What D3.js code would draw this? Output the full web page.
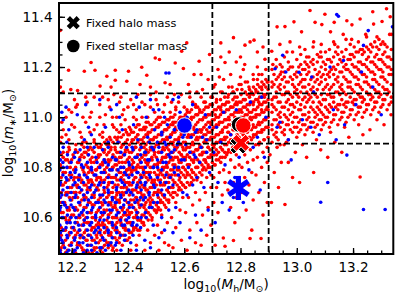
<!DOCTYPE html>
<html>
<head>
<meta charset="utf-8">
<script src="https://cdn.jsdelivr.net/npm/d3@7"></script>
<style>
  body { margin: 0; background: #fff; }
  text { font-family: "DejaVu Sans", sans-serif; }
</style>
</head>
<body>
<div id="chart"></div>
<script>
// axis ticks
const xTicks = [12.2, 12.4, 12.6, 12.8, 13.0, 13.2];
const yTicks = [10.6, 10.8, 11.0, 11.2, 11.4];
const vLines = [12.7, 12.9];
const hLines = [10.895, 11.095];
const legendLabels = ["Fixed halo mass", "Fixed stellar mass"];

// big markers [x, y]
const stellarBlue = [12.601, 10.967];
const stellarAll = [12.795, 10.971];
const stellarRed = [12.810, 10.967];
const haloAll = [12.793, 10.887];
const haloRed = [12.802, 10.898];
const haloBlue = [12.7925, 10.718];

// red galaxies [log Mh, log m*]
const redPoints = [
[12.16,10.47],[12.17,10.50],[12.18,10.46],[12.19,10.53],[12.16,10.56],[12.18,10.59],[12.17,10.62],[12.19,10.64],[12.16,10.68],[12.18,10.70],[12.165,10.73],[12.19,10.75],[12.17,10.78],[12.16,10.81],[12.185,10.83],[12.17,10.86],[12.19,10.88],[12.16,10.90],[12.18,10.93],[12.165,10.98],[12.19,11.03],[12.17,11.10],[12.16,11.12],[12.16,11.346],[12.175,10.55],[12.195,10.60],[12.16,10.52],[12.19,10.70],[12.175,10.66],[12.195,10.80],
[12.21,10.46],[12.22,10.49],[12.24,10.47],[12.23,10.52],[12.21,10.55],[12.245,10.54],[12.22,10.58],[12.24,10.61],[12.21,10.63],[12.23,10.65],[12.205,10.68],[12.245,10.69],[12.22,10.72],[12.235,10.74],[12.21,10.76],[12.24,10.79],[12.225,10.82],[12.205,10.85],[12.245,10.86],[12.215,10.89],[12.235,10.92],[12.21,10.96],[12.24,11.00],[12.22,11.05],[12.245,11.183],[12.245,10.58],[12.215,10.70],[12.23,10.84],
[12.26,10.46],[12.28,10.48],[12.255,10.51],[12.29,10.52],[12.27,10.55],[12.255,10.58],[12.285,10.59],[12.27,10.62],[12.295,10.63],[12.26,10.66],[12.28,10.68],[12.255,10.71],[12.29,10.72],[12.27,10.75],[12.26,10.78],[12.285,10.79],[12.27,10.82],[12.295,10.85],[12.26,10.87],[12.28,10.90],[12.265,10.94],[12.29,10.97],[12.27,11.02],[12.255,11.06],[12.283,11.187],[12.3,10.57],[12.275,10.65],[12.26,10.74],[12.29,10.76],
[12.31,10.46],[12.33,10.48],[12.345,10.47],[12.32,10.51],[12.305,10.53],[12.34,10.54],[12.325,10.56],[12.31,10.58],[12.345,10.60],[12.33,10.61],[12.315,10.63],[12.34,10.65],[12.305,10.66],[12.325,10.68],[12.345,10.70],[12.315,10.71],[12.33,10.73],[12.305,10.75],[12.34,10.76],[12.32,10.78],[12.345,10.80],[12.31,10.81],[12.33,10.83],[12.315,10.86],[12.34,10.88],[12.325,10.91],[12.31,10.94],[12.345,10.97],[12.32,11.01],[12.335,11.04],[12.31,11.08],[12.325,11.163],[12.305,10.89],[12.335,10.92],
[12.36,10.47],[12.38,10.49],[12.395,10.51],[12.37,10.52],[12.355,10.55],[12.39,10.56],[12.375,10.58],[12.36,10.60],[12.395,10.61],[12.38,10.63],[12.355,10.64],[12.37,10.66],[12.39,10.67],[12.36,10.69],[12.38,10.70],[12.395,10.72],[12.365,10.73],[12.385,10.75],[12.355,10.76],[12.375,10.78],[12.395,10.79],[12.36,10.81],[12.38,10.82],[12.37,10.84],[12.39,10.86],[12.355,10.87],[12.38,10.89],[12.365,10.92],[12.395,10.94],[12.375,10.97],[12.36,11.00],[12.385,11.03],[12.37,11.06],[12.396,11.143],[12.355,11.187],[12.355,11.147],
[12.41,10.47],[12.43,10.49],[12.405,10.52],[12.44,10.53],[12.42,10.55],[12.41,10.58],[12.445,10.59],[12.43,10.61],[12.405,10.62],[12.42,10.64],[12.44,10.65],[12.41,10.67],[12.43,10.68],[12.445,10.70],[12.415,10.71],[12.435,10.73],[12.405,10.74],[12.425,10.76],[12.445,10.77],[12.41,10.79],[12.43,10.80],[12.445,10.82],[12.415,10.83],[12.435,10.85],[12.405,10.86],[12.425,10.88],[12.445,10.89],[12.415,10.91],[12.435,10.93],[12.41,10.95],[12.44,10.97],[12.42,11.00],[12.43,11.03],[12.41,11.07],[12.443,11.13],[12.402,11.183],[12.449,11.199],
[12.46,10.47],[12.48,10.50],[12.495,10.53],[12.47,10.55],[12.455,10.58],[12.485,10.59],[12.47,10.62],[12.495,10.63],[12.46,10.65],[12.48,10.66],[12.455,10.68],[12.49,10.69],[12.47,10.71],[12.46,10.72],[12.485,10.74],[12.495,10.75],[12.465,10.76],[12.48,10.78],[12.455,10.79],[12.49,10.80],[12.47,10.81],[12.46,10.83],[12.485,10.84],[12.495,10.86],[12.465,10.87],[12.48,10.88],[12.455,10.90],[12.49,10.91],[12.47,10.93],[12.46,10.95],[12.485,10.97],[12.47,11.00],[12.495,11.02],[12.46,11.05],[12.48,11.09],[12.467,11.167],[12.497,11.236],
[12.51,10.47],[12.53,10.50],[12.545,10.49],[12.52,10.54],[12.505,10.57],[12.54,10.58],[12.52,10.61],[12.505,10.63],[12.535,10.64],[12.515,10.66],[12.545,10.67],[12.525,10.69],[12.505,10.70],[12.54,10.71],[12.515,10.73],[12.53,10.74],[12.545,10.76],[12.51,10.77],[12.525,10.79],[12.54,10.80],[12.505,10.81],[12.52,10.83],[12.535,10.84],[12.51,10.86],[12.545,10.87],[12.525,10.88],[12.505,10.90],[12.54,10.91],[12.52,10.93],[12.535,10.95],[12.51,10.97],[12.545,10.99],[12.525,11.02],[12.505,11.05],[12.54,11.08],[12.532,11.137],[12.512,11.23],
[12.56,10.48],[12.59,10.51],[12.57,10.56],[12.555,10.60],[12.585,10.63],[12.57,10.66],[12.595,10.68],[12.56,10.70],[12.58,10.71],[12.595,10.73],[12.565,10.74],[12.585,10.76],[12.555,10.77],[12.575,10.79],[12.595,10.80],[12.56,10.81],[12.58,10.83],[12.555,10.84],[12.59,10.85],[12.57,10.87],[12.595,10.88],[12.56,10.89],[12.58,10.91],[12.555,10.93],[12.59,10.94],[12.57,10.96],[12.56,10.98],[12.585,11.00],[12.57,11.03],[12.555,11.06],[12.59,11.09],[12.591,11.263],[12.568,11.216],[12.597,11.194],
[12.61,10.47],[12.64,10.50],[12.62,10.55],[12.645,10.58],[12.605,10.62],[12.63,10.65],[12.615,10.68],[12.64,10.70],[12.605,10.72],[12.625,10.74],[12.645,10.75],[12.61,10.77],[12.63,10.78],[12.645,10.80],[12.615,10.81],[12.635,10.83],[12.605,10.84],[12.625,10.86],[12.645,10.87],[12.61,10.88],[12.63,10.90],[12.645,10.92],[12.615,10.93],[12.635,10.95],[12.605,10.97],[12.625,10.99],[12.645,11.01],[12.61,11.03],[12.63,11.06],[12.645,11.10],[12.615,11.13],[12.635,11.17],[12.609,11.296],
[12.66,10.49],[12.68,10.53],[12.695,10.57],[12.665,10.61],[12.685,10.64],[12.655,10.67],[12.675,10.70],[12.695,10.72],[12.66,10.74],[12.68,10.76],[12.695,10.77],[12.665,10.79],[12.685,10.80],[12.655,10.82],[12.675,10.83],[12.695,10.85],[12.665,10.86],[12.685,10.88],[12.655,10.89],[12.675,10.91],[12.695,10.92],[12.66,10.94],[12.68,10.95],[12.695,10.97],[12.665,10.99],[12.685,11.01],[12.655,11.03],[12.675,11.06],[12.695,11.08],[12.665,11.11],[12.685,11.15],[12.653,11.223],[12.69,11.25],
[12.71,10.49],[12.739,10.519],[12.745,10.486],[12.72,10.62],[12.705,10.66],[12.735,10.69],[12.715,10.72],[12.745,10.74],[12.705,10.76],[12.725,10.78],[12.74,10.79],[12.71,10.81],[12.73,10.82],[12.745,10.84],[12.715,10.85],[12.735,10.87],[12.705,10.88],[12.725,10.90],[12.745,10.91],[12.715,10.93],[12.735,10.94],[12.705,10.96],[12.725,10.98],[12.745,10.99],[12.71,11.01],[12.73,11.03],[12.745,11.05],[12.715,11.07],[12.735,11.10],[12.705,11.12],[12.725,11.16],[12.745,11.218],[12.73,11.296],
[12.775,10.509],[12.78,10.58],[12.795,10.60],[12.765,10.64],[12.785,10.68],[12.755,10.71],[12.775,10.74],[12.795,10.76],[12.76,10.78],[12.78,10.80],[12.795,10.81],[12.765,10.83],[12.785,10.85],[12.755,10.86],[12.775,10.88],[12.795,10.89],[12.765,10.91],[12.785,10.92],[12.755,10.94],[12.775,10.95],[12.795,10.97],[12.76,10.99],[12.78,11.00],[12.795,11.02],[12.765,11.04],[12.785,11.06],[12.755,11.08],[12.775,11.10],[12.795,11.13],[12.765,11.17],[12.785,11.22],[12.775,11.317],
[12.834,10.517],[12.84,10.55],[12.82,10.63],[12.845,10.67],[12.805,10.70],[12.83,10.73],[12.815,10.76],[12.84,10.78],[12.805,10.80],[12.825,10.82],[12.845,10.83],[12.815,10.85],[12.835,10.87],[12.805,10.88],[12.825,10.90],[12.845,10.92],[12.81,10.93],[12.83,10.95],[12.845,10.97],[12.815,10.98],[12.835,11.00],[12.805,11.02],[12.825,11.03],[12.845,11.05],[12.815,11.07],[12.835,11.09],[12.805,11.11],[12.825,11.14],[12.845,11.17],[12.815,11.21],[12.816,11.287],[12.834,11.30],[12.848,11.307],
[12.873,10.517],[12.88,10.61],[12.895,10.66],[12.865,10.70],[12.885,10.74],[12.855,10.77],[12.875,10.80],[12.895,10.82],[12.86,10.84],[12.88,10.86],[12.895,10.88],[12.865,10.89],[12.885,10.91],[12.855,10.93],[12.875,10.94],[12.895,10.96],[12.865,10.98],[12.885,10.99],[12.855,11.01],[12.875,11.03],[12.895,11.04],[12.865,11.06],[12.885,11.08],[12.855,11.10],[12.875,11.12],[12.895,11.14],[12.865,11.17],[12.887,11.231],[12.86,11.26],
[12.91,10.66],[12.935,10.72],[12.92,10.78],[12.945,10.82],[12.905,10.85],[12.93,10.88],[12.945,11.18],[12.915,11.21],[12.911,11.263],[12.94,11.29],
[12.958,10.652],[12.985,10.76],[12.97,10.82],[12.995,10.86],[12.955,10.89],[12.965,11.26],[12.976,11.30],[12.958,11.361],
[13.01,10.74],[13.035,10.84],[13.02,10.89],[13.035,11.24],[13.01,11.28],[13.017,11.34],[13.047,11.425],
[13.06,10.78],[13.085,10.87],[13.07,10.91],[13.085,11.26],[13.06,11.30],[13.065,11.378],[13.089,11.369],
[13.11,10.84],[13.135,10.90],[13.12,10.94],[13.135,11.29],[13.12,11.34],[13.133,11.378],
[13.16,10.86],[13.185,10.92],[13.17,10.96],[13.195,11.31],[13.165,11.33],[13.178,11.384],[13.196,11.368],
[13.225,10.762],[13.235,10.93],[13.22,10.97],[13.245,11.33],[13.225,11.391],
[13.26,10.95],[13.285,10.99],[13.285,11.32],[13.273,11.371],[13.303,11.381],
[13.31,10.97],[13.335,11.01],[13.33,11.33],[13.332,11.40],[13.319,11.432],
[12.189,11.187],[12.269,11.218],[12.221,11.106],[12.197,11.11],[12.301,11.124],
[12.17,10.95],[12.2,11.02],[12.25,10.98],[12.3,11.05],[12.35,11.09],[12.4,11.04],[12.38,11.01],[12.45,11.06],[12.5,11.1],[12.55,11.13],[12.62,11.08],[12.57,11.04],[12.43,10.99],[12.28,11.08],[12.21,11.07],[12.34,11.12],[12.48,11.12],[12.66,11.17],[12.72,11.19],[12.76,11.26],[12.8,11.24],[12.86,11.2],[12.93,11.36],[12.99,11.38],[13.1,11.41],[13.27,11.42],
[12.165,10.92],[12.18,11.0],[12.2,10.97],[12.215,11.04],[12.23,10.94],[12.25,11.08],[12.265,11.0],[12.28,10.95],[12.3,11.0],[12.315,10.97],[12.33,11.07],[12.345,11.0],[12.36,10.95],[12.375,11.08],[12.39,10.99],[12.405,10.96],[12.42,11.05],[12.435,11.09],[12.45,11.0],[12.465,10.98],[12.48,11.04],[12.5,11.07],[12.515,11.0],[12.53,11.05],[12.55,11.02],[12.565,11.09],[12.58,11.06],[12.6,11.04],[12.62,11.1],[12.64,11.05],[12.66,11.08],[12.19,10.91],[12.24,10.9],[12.3,10.93],[12.35,10.96],[12.4,10.93],
[12.71,11.13],[12.74,11.15],[12.77,11.12],[12.8,11.16],[12.83,11.12],[12.86,11.15],[12.89,11.19],[12.73,11.24],[12.81,11.19],[12.88,11.28]
];

// dense red core, listed per narrow column: [log Mh, [log m* ...]]
const redDense = [
[12.163,[10.48,10.53,10.56,10.62,10.66,10.7,10.76,10.8,10.85]],
[12.178,[10.46,10.51,10.55,10.6,10.65,10.69,10.74,10.78,10.83]],
[12.192,[10.49,10.54,10.59,10.63,10.68,10.72,10.77,10.82,10.87]],
[12.207,[10.47,10.52,10.56,10.61,10.64,10.7,10.75,10.79,10.84]],
[12.221,[10.5,10.54,10.6,10.63,10.68,10.73,10.76,10.82,10.86]],
[12.236,[10.48,10.53,10.57,10.62,10.67,10.71,10.75,10.8,10.85,10.89]],
[12.251,[10.46,10.51,10.55,10.6,10.64,10.68,10.73,10.77,10.81,10.86,10.9]],
[12.266,[10.49,10.53,10.58,10.62,10.66,10.71,10.75,10.79,10.83,10.88]],
[12.28,[10.47,10.51,10.56,10.6,10.65,10.69,10.73,10.77,10.82,10.86,10.91]],
[12.295,[10.5,10.54,10.58,10.63,10.67,10.71,10.76,10.8,10.84,10.88]],
[12.31,[10.48,10.52,10.57,10.61,10.65,10.69,10.74,10.78,10.82,10.87,10.92]],
[12.325,[10.5,10.55,10.59,10.63,10.68,10.72,10.76,10.8,10.85,10.89]],
[12.339,[10.49,10.53,10.58,10.62,10.66,10.7,10.74,10.79,10.83,10.87,10.91]],
[12.354,[10.52,10.57,10.6,10.65,10.68,10.73,10.76,10.81,10.84,10.88,10.92]],
[12.369,[10.5,10.54,10.59,10.62,10.67,10.7,10.75,10.78,10.82,10.86,10.9,10.94]],
[12.384,[10.53,10.56,10.61,10.64,10.69,10.72,10.77,10.8,10.85,10.89,10.93]],
[12.398,[10.51,10.55,10.58,10.63,10.66,10.71,10.74,10.79,10.83,10.87,10.91]],
[12.413,[10.54,10.57,10.62,10.65,10.7,10.73,10.78,10.81,10.86,10.9,10.94]],
[12.428,[10.56,10.6,10.63,10.68,10.71,10.76,10.79,10.84,10.88,10.92,10.96]],
[12.442,[10.55,10.59,10.64,10.67,10.72,10.75,10.8,10.83,10.87,10.91,10.95]],
[12.457,[10.57,10.61,10.64,10.69,10.72,10.77,10.8,10.85,10.88,10.92,10.96]],
[12.472,[10.59,10.62,10.67,10.7,10.75,10.78,10.82,10.86,10.9,10.94,10.98]],
[12.486,[10.6,10.64,10.67,10.72,10.75,10.8,10.83,10.87,10.91,10.95]],
[12.501,[10.62,10.65,10.7,10.73,10.77,10.81,10.84,10.89,10.92,10.96,10.99]],
[12.516,[10.63,10.67,10.7,10.75,10.78,10.82,10.86,10.9,10.93,10.97]],
[12.53,[10.65,10.68,10.73,10.76,10.8,10.84,10.87,10.91,10.95,10.98]],
[12.545,[10.66,10.7,10.74,10.77,10.82,10.85,10.89,10.92,10.96,10.99]],
[12.56,[10.68,10.72,10.75,10.79,10.83,10.86,10.9,10.94,10.97,11.0]],
[12.575,[10.69,10.73,10.77,10.8,10.84,10.88,10.91,10.95,10.98]],
[12.589,[10.71,10.74,10.78,10.82,10.85,10.89,10.93,10.96,11.0]],
[12.604,[10.72,10.76,10.79,10.83,10.87,10.9,10.94,10.97,11.01]],
[12.619,[10.73,10.77,10.81,10.84,10.88,10.92,10.95,10.99,11.02]],
[12.633,[10.75,10.78,10.82,10.86,10.89,10.93,10.96,11.0]],
[12.648,[10.76,10.8,10.83,10.87,10.91,10.94,10.98,11.01,11.04]],
[12.663,[10.77,10.81,10.85,10.88,10.92,10.95,10.99,11.02]],
[12.677,[10.79,10.82,10.86,10.9,10.93,10.97,11.0,11.04]],
[12.692,[10.8,10.84,10.87,10.91,10.94,10.98,11.01,11.05]],
[12.707,[10.81,10.85,10.89,10.92,10.96,10.99,11.03]],
[12.722,[10.83,10.86,10.9,10.93,10.97,11.0,11.04]],
[12.736,[10.84,10.87,10.91,10.95,10.98,11.02,11.05]],
[12.751,[10.85,10.89,10.92,10.96,10.99,11.03,11.06]],
[12.766,[10.86,10.9,10.93,10.97,11.01,11.04]],
[12.78,[10.87,10.91,10.95,10.98,11.02,11.05,11.08]],
[12.795,[10.88,10.92,10.96,10.99,11.03,11.06]],
[12.81,[10.89,10.93,10.97,11.0,11.04,11.07]],
[12.824,[10.9,10.94,10.98,11.01,11.05,11.09]],
[12.839,[10.91,10.95,10.99,11.02,11.06,11.1]],
[12.854,[10.89,10.93,10.96,11.0,11.03,11.07,11.11]],
[12.868,[10.9,10.94,10.97,11.01,11.05,11.08,11.12]],
[12.883,[10.91,10.95,10.99,11.02,11.06,11.09,11.13]],
[12.898,[10.92,10.96,11.0,11.03,11.07,11.11,11.14]],
[12.912,[10.9,10.95,10.97,11.02,11.05,11.07,11.12,11.14,11.19]],
[12.927,[10.92,10.94,10.99,11.03,11.08,11.1,11.15,11.2,11.23]],
[12.941,[10.89,10.96,11.0,11.02,11.06,11.11,11.13,11.17,11.21]],
[12.956,[10.93,10.95,11.01,11.04,11.09,11.12,11.16,11.18,11.24]],
[12.97,[10.91,10.97,10.99,11.03,11.07,11.1,11.14,11.19,11.22]],
[12.985,[10.94,10.98,11.02,11.05,11.08,11.13,11.15,11.2,11.26]],
[13.0,[10.92,10.96,11.0,11.06,11.09,11.11,11.16,11.18,11.23]],
[13.014,[10.95,10.99,11.03,11.05,11.1,11.14,11.17,11.21,11.25]],
[13.029,[10.93,10.97,11.01,11.04,11.08,11.12,11.15,11.19,11.22,11.27]],
[13.043,[10.96,11.0,11.02,11.07,11.09,11.13,11.18,11.2,11.24]],
[13.058,[10.94,10.98,11.03,11.06,11.1,11.12,11.16,11.21,11.23,11.28]],
[13.073,[10.97,11.01,11.04,11.08,11.11,11.15,11.17,11.22,11.25]],
[13.087,[10.95,10.99,11.02,11.05,11.09,11.14,11.16,11.2,11.24,11.29]],
[13.102,[10.98,11.0,11.04,11.07,11.12,11.15,11.19,11.21,11.26]],
[13.116,[10.96,11.02,11.05,11.09,11.11,11.16,11.18,11.23,11.27]],
[13.131,[10.99,11.01,11.06,11.08,11.13,11.17,11.2,11.24,11.3]],
[13.146,[10.97,11.03,11.05,11.1,11.14,11.16,11.21,11.25,11.28]],
[13.16,[11.0,11.02,11.07,11.11,11.13,11.18,11.22,11.26]],
[13.175,[10.98,11.04,11.06,11.09,11.15,11.19,11.21,11.27,11.31]],
[13.19,[11.01,11.03,11.08,11.12,11.14,11.18,11.23,11.25,11.29]],
[13.204,[10.99,11.05,11.07,11.1,11.16,11.2,11.24,11.28]],
[13.219,[11.02,11.04,11.09,11.13,11.15,11.19,11.22,11.26,11.3]],
[13.233,[11.0,11.06,11.08,11.11,11.17,11.21,11.25,11.27]],
[13.248,[11.03,11.05,11.1,11.14,11.16,11.2,11.23,11.28,11.32]],
[13.263,[11.01,11.07,11.09,11.12,11.18,11.22,11.26,11.29]],
[13.277,[11.04,11.06,11.11,11.15,11.17,11.21,11.24,11.3]],
[13.292,[11.02,11.08,11.1,11.13,11.19,11.23,11.27,11.31]],
[13.306,[11.05,11.07,11.12,11.16,11.18,11.22,11.25,11.3]],
[13.321,[11.03,11.09,11.11,11.14,11.2,11.24,11.28]],
[13.336,[11.06,11.08,11.13,11.17,11.19,11.23,11.27,11.33]]
];

// second, offset set of narrow columns in the dense red regions
const redDense2 = [
[12.17,[10.49,10.55,10.6,10.66,10.73,10.78,10.84]],
[12.185,[10.47,10.52,10.58,10.63,10.7,10.75,10.8,10.86]],
[12.2,[10.5,10.56,10.61,10.67,10.72,10.77,10.83]],
[12.214,[10.46,10.53,10.58,10.64,10.7,10.73,10.8,10.87]],
[12.229,[10.49,10.55,10.6,10.66,10.7,10.76,10.83]],
[12.244,[10.47,10.52,10.59,10.64,10.68,10.73,10.78,10.84,10.88]],
[12.258,[10.49,10.53,10.58,10.62,10.67,10.72,10.75,10.8,10.85]],
[12.273,[10.46,10.51,10.56,10.6,10.65,10.69,10.74,10.78,10.84,10.87]],
[12.288,[10.48,10.53,10.57,10.62,10.66,10.71,10.75,10.79,10.83,10.89]],
[12.302,[10.47,10.51,10.55,10.6,10.64,10.68,10.73,10.76,10.81,10.85,10.88]],
[12.317,[10.49,10.54,10.57,10.62,10.66,10.7,10.75,10.79,10.83,10.87,10.9]],
[12.332,[10.5,10.53,10.58,10.61,10.66,10.69,10.74,10.77,10.82,10.86,10.89]],
[12.347,[10.48,10.52,10.56,10.6,10.64,10.68,10.72,10.76,10.8,10.85,10.9]],
[12.361,[10.51,10.55,10.58,10.63,10.67,10.7,10.75,10.79,10.83,10.86,10.91]],
[12.376,[10.53,10.57,10.6,10.64,10.68,10.72,10.76,10.8,10.84,10.88,10.92]],
[12.391,[10.51,10.55,10.59,10.62,10.67,10.7,10.74,10.78,10.82,10.87,10.9,10.95]],
[12.405,[10.54,10.58,10.61,10.65,10.69,10.73,10.77,10.8,10.84,10.89,10.93]],
[12.42,[10.56,10.6,10.64,10.67,10.71,10.75,10.79,10.82,10.87,10.91,10.94]],
[12.435,[10.55,10.59,10.62,10.66,10.7,10.74,10.78,10.81,10.85,10.9,10.93,10.97]],
[12.45,[10.58,10.61,10.65,10.69,10.73,10.76,10.8,10.84,10.88,10.91,10.95]],
[12.464,[10.6,10.63,10.66,10.71,10.74,10.78,10.82,10.85,10.89,10.93,10.96]],
[12.479,[10.61,10.65,10.68,10.72,10.76,10.8,10.83,10.87,10.91,10.94,10.97]],
[12.494,[10.63,10.66,10.7,10.74,10.78,10.81,10.85,10.88,10.92,10.95,10.98]],
[12.508,[10.64,10.68,10.71,10.75,10.79,10.82,10.86,10.89,10.93,10.96,11.0]],
[12.523,[10.66,10.69,10.73,10.77,10.8,10.84,10.87,10.91,10.94,10.98]],
[12.538,[10.67,10.71,10.74,10.78,10.81,10.85,10.88,10.92,10.95,10.99]],
[12.552,[10.69,10.72,10.76,10.79,10.83,10.86,10.9,10.93,10.97,11.0]],
[12.567,[10.7,10.74,10.77,10.81,10.84,10.88,10.91,10.94,10.98,11.01]],
[12.582,[10.72,10.75,10.79,10.82,10.86,10.89,10.92,10.96,10.99]],
[12.597,[10.73,10.77,10.8,10.84,10.87,10.9,10.94,10.97,11.0]],
[12.611,[10.74,10.78,10.81,10.85,10.88,10.92,10.95,10.98,11.02]],
[12.626,[10.76,10.79,10.83,10.86,10.89,10.93,10.96,11.0,11.03]],
[12.641,[10.77,10.8,10.84,10.87,10.91,10.94,10.97,11.01,11.04]],
[12.655,[10.78,10.82,10.85,10.88,10.92,10.95,10.99,11.02]],
[12.67,[10.8,10.83,10.86,10.9,10.93,10.96,11.0,11.03,11.06]],
[12.685,[10.81,10.84,10.88,10.91,10.94,10.98,11.01,11.04]],
[12.7,[10.82,10.85,10.89,10.92,10.95,10.99,11.02,11.05,11.08]],
[12.714,[10.83,10.87,10.9,10.93,10.97,11.0,11.03,11.06]],
[12.729,[10.84,10.88,10.91,10.94,10.98,11.01,11.04,11.07,11.1]],
[12.744,[10.86,10.89,10.92,10.96,10.99,11.02,11.05,11.08]],
[12.758,[10.87,10.9,10.94,10.97,11.0,11.03,11.06,11.09,11.12]],
[12.773,[10.88,10.91,10.95,10.98,11.01,11.04,11.07,11.1]],
[12.788,[10.89,10.93,10.96,10.99,11.02,11.05,11.08,11.11]],
[12.802,[10.9,10.94,10.97,11.0,11.03,11.06,11.09,11.13]],
[12.817,[10.91,10.95,10.98,11.01,11.04,11.07,11.1,11.14]],
[12.832,[10.92,10.96,10.99,11.02,11.05,11.08,11.11]],
[12.846,[10.93,10.96,11.0,11.03,11.06,11.09,11.12,11.15]],
[12.861,[10.94,10.97,11.01,11.04,11.07,11.1,11.13]],
[12.876,[10.95,10.98,11.02,11.05,11.08,11.11,11.14,11.17]],
[12.89,[10.96,10.99,11.03,11.06,11.09,11.12,11.15]],
[12.919,[10.93,10.99,11.04,11.08,11.13,11.17]],
[12.934,[10.91,10.97,11.01,11.06,11.12,11.16]],
[12.948,[10.94,10.98,11.04,11.09,11.15,11.2]],
[12.963,[10.9,10.97,11.0,11.06,11.1,11.14]],
[12.977,[10.95,11.01,11.05,11.09,11.16,11.2]],
[12.992,[10.96,11.0,11.04,11.1,11.12,11.17]],
[13.007,[10.94,10.98,11.03,11.08,11.13,11.2]],
[13.021,[10.97,11.01,11.07,11.12,11.15,11.19]],
[13.036,[10.95,10.99,11.06,11.1,11.17,11.21]],
[13.05,[10.98,11.04,11.08,11.11,11.15,11.22]],
[13.065,[10.96,11.0,11.02,11.09,11.14,11.19]],
[13.08,[10.99,11.03,11.06,11.13,11.18,11.24]],
[13.094,[10.97,11.01,11.07,11.11,11.17,11.22]],
[13.109,[11.0,11.03,11.09,11.13,11.17,11.23]],
[13.123,[10.98,11.04,11.08,11.12,11.19,11.22]],
[13.138,[11.01,11.04,11.1,11.15,11.19,11.26]],
[13.153,[10.99,11.05,11.09,11.12,11.18,11.23]],
[13.167,[11.02,11.05,11.1,11.16,11.2,11.24]],
[13.182,[11.0,11.06,11.12,11.14,11.19,11.23]],
[13.197,[11.03,11.06,11.11,11.17,11.21,11.25]],
[13.211,[11.01,11.07,11.13,11.16,11.2,11.26]],
[13.226,[11.04,11.08,11.12,11.18,11.22,11.27]],
[13.24,[11.02,11.07,11.14,11.17,11.21,11.26]],
[13.255,[11.05,11.09,11.13,11.19,11.24,11.27]],
[13.27,[11.03,11.08,11.15,11.18,11.22,11.28]],
[13.284,[11.06,11.1,11.14,11.2,11.25,11.28]],
[13.299,[11.04,11.09,11.16,11.19,11.23,11.29]],
[13.313,[11.07,11.11,11.15,11.21,11.26,11.29]],
[13.328,[11.05,11.1,11.17,11.2,11.24]]
];

// blue galaxies [log Mh, log m*]
const bluePoints = [
[12.16,10.46],[12.175,10.48],[12.19,10.47],[12.165,10.51],[12.185,10.52],[12.16,10.54],[12.18,10.56],[12.195,10.58],[12.165,10.60],[12.185,10.61],[12.16,10.64],[12.175,10.65],[12.195,10.67],[12.165,10.69],[12.185,10.72],[12.16,10.74],[12.18,10.76],[12.195,10.78],[12.17,10.80],[12.16,10.83],[12.185,10.85],[12.17,10.88],[12.19,10.95],[12.165,11.02],[12.18,11.04],
[12.205,10.46],[12.22,10.48],[12.24,10.50],[12.21,10.51],[12.23,10.53],[12.205,10.56],[12.225,10.57],[12.245,10.59],[12.215,10.60],[12.235,10.62],[12.205,10.64],[12.225,10.66],[12.245,10.67],[12.215,10.69],[12.235,10.71],[12.205,10.73],[12.225,10.75],[12.245,10.77],[12.215,10.79],[12.235,10.81],[12.21,10.84],[12.23,10.87],[12.245,10.91],
[12.255,10.47],[12.27,10.49],[12.29,10.46],[12.26,10.53],[12.28,10.54],[12.295,10.56],[12.265,10.57],[12.285,10.61],[12.255,10.62],[12.275,10.64],[12.295,10.66],[12.26,10.67],[12.28,10.70],[12.295,10.73],[12.265,10.72],[12.255,10.76],[12.28,10.77],[12.27,10.80],[12.29,10.82],[12.26,10.85],[12.28,10.88],[12.27,10.93],
[12.305,10.48],[12.32,10.47],[12.34,10.50],[12.31,10.52],[12.33,10.55],[12.345,10.57],[12.315,10.59],[12.305,10.62],[12.335,10.63],[12.32,10.66],[12.345,10.67],[12.31,10.69],[12.33,10.71],[12.345,10.74],[12.315,10.74],[12.305,10.78],[12.335,10.79],[12.32,10.82],[12.345,10.84],[12.31,10.87],[12.33,10.90],[12.32,10.96],[12.34,11.03],
[12.355,10.49],[12.375,10.47],[12.39,10.53],[12.36,10.54],[12.38,10.57],[12.395,10.59],[12.365,10.62],[12.385,10.65],[12.355,10.66],[12.375,10.68],[12.395,10.70],[12.36,10.72],[12.38,10.74],[12.395,10.77],[12.365,10.79],[12.385,10.80],[12.355,10.83],[12.375,10.86],[12.395,10.88],[12.365,10.90],[12.38,10.95],[12.36,11.05],
[12.41,10.50],[12.43,10.47],[12.445,10.56],[12.415,10.57],[12.435,10.60],[12.405,10.64],[12.425,10.66],[12.445,10.68],[12.41,10.70],[12.43,10.72],[12.445,10.74],[12.415,10.77],[12.435,10.78],[12.405,10.81],[12.425,10.84],[12.445,10.85],[12.415,10.88],[12.435,10.91],[12.42,10.97],[12.44,11.04],
[12.46,10.51],[12.48,10.48],[12.49,10.57],[12.465,10.60],[12.485,10.64],[12.455,10.67],[12.475,10.69],[12.495,10.72],[12.46,10.73],[12.48,10.76],[12.455,10.78],[12.49,10.80],[12.47,10.83],[12.46,10.86],[12.485,10.88],[12.47,10.92],[12.495,10.95],[12.465,11.00],[12.48,11.07],
[12.51,10.52],[12.53,10.55],[12.52,10.60],[12.545,10.63],[12.505,10.66],[12.53,10.69],[12.545,10.72],[12.515,10.74],[12.535,10.77],[12.505,10.80],[12.525,10.82],[12.545,10.85],[12.51,10.88],[12.53,10.90],[12.52,10.94],[12.54,10.97],[12.51,11.03],[12.535,11.176],[12.546,11.176],
[12.56,10.54],[12.585,10.58],[12.57,10.64],[12.595,10.70],[12.56,10.73],[12.58,10.77],[12.565,10.80],[12.59,10.83],[12.555,10.86],[12.575,10.89],[12.595,10.92],[12.565,10.95],[12.585,11.02],[12.56,11.07],
[12.62,10.52],[12.64,10.61],[12.61,10.69],[12.63,10.73],[12.645,10.76],[12.615,10.80],[12.635,10.85],[12.605,10.89],[12.625,10.92],[12.645,10.95],[12.61,11.00],[12.63,11.05],
[12.66,10.55],[12.685,10.63],[12.67,10.72],[12.69,10.78],[12.655,10.82],[12.68,10.86],[12.665,10.92],[12.69,10.96],[12.675,11.01],
[12.71,10.58],[12.735,10.66],[12.72,10.74],[12.745,10.81],[12.705,10.86],[12.73,10.90],[12.715,10.96],[12.74,11.02],
[12.76,10.63],[12.78,10.76],[12.795,10.84],[12.765,10.93],[12.785,11.03],[12.775,10.68],
[12.81,10.66],[12.83,10.79],[12.845,10.88],[12.815,10.95],[12.835,11.06],
[12.87,10.71],[12.885,10.84],[12.86,10.92],[12.89,11.00],[12.875,11.08],
[12.95,11.247],[12.923,11.193],[12.961,11.18],[13.008,11.179],[13.053,11.16],[13.118,11.2],[13.142,11.409],[13.148,11.402],[13.254,11.345],[13.34,11.36],[13.237,11.286],[13.166,11.226],
[12.93,10.96],[12.97,10.91],[13.02,10.99],[13.08,10.93],[13.13,11.03],[13.17,10.97],[13.21,11.05],[13.27,11.12],[13.3,11.01],[13.11,10.74],[12.98,10.83],[13.06,11.10],[13.14,10.91],[13.23,11.18],[12.94,10.98],[13.05,10.96],
[13.237,10.632],[13.314,10.632],[13.178,10.849],[13.085,10.661],
[12.17,10.99],[12.22,11.01],[12.26,10.96],[12.3,11.07],[12.37,11.0],[12.43,11.08],[12.49,11.03],[12.53,11.0],[12.58,11.08],[12.25,11.05]
];

// dense blue clump at low mass, per narrow column
const blueDense = [
[12.158,[10.47,10.52,10.57,10.63,10.68,10.73,10.79,10.86]],
[12.169,[10.5,10.55,10.6,10.66,10.71,10.77,10.82]],
[12.183,[10.46,10.53,10.58,10.64,10.69,10.75,10.8,10.9]],
[12.198,[10.49,10.54,10.6,10.65,10.7,10.76,10.82]],
[12.212,[10.47,10.52,10.58,10.63,10.68,10.74,10.78,10.86]],
[12.227,[10.5,10.55,10.61,10.66,10.72,10.77,10.83]],
[12.242,[10.46,10.52,10.57,10.63,10.69,10.74,10.8]],
[12.256,[10.49,10.55,10.6,10.65,10.7,10.76,10.82,10.88]],
[12.271,[10.47,10.52,10.58,10.63,10.68,10.73,10.79]],
[12.286,[10.5,10.55,10.6,10.66,10.71,10.77,10.84]],
[12.3,[10.48,10.54,10.59,10.64,10.69,10.74,10.8]],
[12.315,[10.51,10.56,10.62,10.67,10.72,10.78,10.83]],
[12.33,[10.49,10.54,10.6,10.65,10.7,10.76,10.81,10.88]],
[12.344,[10.52,10.58,10.63,10.68,10.74,10.79]],
[12.359,[10.5,10.56,10.61,10.66,10.71,10.77,10.83]],
[12.374,[10.53,10.59,10.64,10.69,10.75,10.8]],
[12.388,[10.51,10.57,10.62,10.67,10.73,10.78,10.85]],
[12.403,[10.55,10.6,10.66,10.71,10.76,10.82]],
[12.418,[10.53,10.58,10.64,10.69,10.74,10.8,10.87]],
[12.432,[10.57,10.62,10.67,10.73,10.78,10.84]],
[12.447,[10.6,10.65,10.71,10.76,10.82,10.88]],
[12.462,[10.62,10.68,10.74,10.8,10.86]],
[12.476,[10.64,10.7,10.77,10.83,10.9]],
[12.491,[10.66,10.73,10.8,10.87]],
[12.505,[10.69,10.76,10.83,10.9]],
[12.52,[10.71,10.79,10.86,10.93]],
[12.535,[10.74,10.82,10.89]],
[12.55,[10.76,10.84,10.92]],
[12.565,[10.78,10.87,10.95]],
[12.58,[10.8,10.9]],
[12.6,[10.83,10.93]],
[12.62,[10.86,10.96]],
[12.64,[10.84,10.94]],
[12.66,[10.88]],
[12.68,[10.91]]
];

const unfold = cols => cols.flatMap(([mh, ys]) => ys.map(ms => [mh, ms]));
const redAll = redPoints.concat(unfold(redDense), unfold(redDense2));
const blueAll = bluePoints.concat(unfold(blueDense));

const W = 399, H = 299;
const margin = { top: 3, right: 5.7, bottom: 45, left: 59 };
const width = W - margin.left - margin.right,
    height = H - margin.top - margin.bottom;

const svg = d3.select("#chart")
    .append("svg")
    .attr("width", W)
    .attr("height", H)
    .append("g")
    .attr("transform", `translate(${margin.left}, ${margin.top})`);

const x = d3.scaleLinear().domain([12.155, 13.343]).range([0, width]);
const y = d3.scaleLinear().domain([10.455, 11.455]).range([height, 0]);

svg.append("clipPath").attr("id", "clip")
    .append("rect").attr("width", width).attr("height", height);

const plot = svg.append("g").attr("clip-path", "url(#clip)");

// scatter: red first, blue on top
plot.append("g").selectAll("circle")
    .data(redAll)
    .join("circle")
    .attr("cx", d => x(d[0]))
    .attr("cy", d => y(d[1]))
    .attr("r", 1.8)
    .attr("fill", "#ff0000");

plot.append("g").selectAll("circle")
    .data(blueAll)
    .join("circle")
    .attr("cx", d => x(d[0]))
    .attr("cy", d => y(d[1]))
    .attr("r", 1.8)
    .attr("fill", "#0000ff");

// dashed reference lines
plot.selectAll(".vl").data(vLines).join("line")
    .attr("x1", d => x(d)).attr("x2", d => x(d))
    .attr("y1", 0).attr("y2", height)
    .attr("stroke", "#000").attr("stroke-width", 1.8)
    .attr("stroke-dasharray", "6,3");
plot.selectAll(".hl").data(hLines).join("line")
    .attr("y1", d => y(d)).attr("y2", d => y(d))
    .attr("x1", 0).attr("x2", width)
    .attr("stroke", "#000").attr("stroke-width", 1.8)
    .attr("stroke-dasharray", "6,3");

// marker shapes
function xPath(L, t) {
    const pts = [[-t,-L],[t,-L],[t,-t],[L,-t],[L,t],[t,t],[t,L],[-t,L],[-t,t],[-L,t],[-L,-t],[-t,-t]];
    const r = pts.map(p => [(p[0] - p[1]) / Math.SQRT2, (p[0] + p[1]) / Math.SQRT2]);
    return "M" + r.map(p => p[0].toFixed(2) + "," + p[1].toFixed(2)).join("L") + "Z";
}

const marks = svg.append("g");
marks.append("circle").attr("cx", x(stellarBlue[0])).attr("cy", y(stellarBlue[1]))
    .attr("r", 7.8).attr("fill", "#0000ff").attr("stroke", "#fff").attr("stroke-width", 1);
marks.append("circle").attr("cx", x(stellarAll[0])).attr("cy", y(stellarAll[1]))
    .attr("r", 7.8).attr("fill", "#000").attr("stroke", "#fff").attr("stroke-width", 1);
marks.append("circle").attr("cx", x(stellarRed[0])).attr("cy", y(stellarRed[1]))
    .attr("r", 7.8).attr("fill", "#ff0000").attr("stroke", "#fff").attr("stroke-width", 1);
marks.append("path").attr("d", xPath(9.2, 2.8))
    .attr("transform", `translate(${x(haloAll[0])},${y(haloAll[1])})`)
    .attr("fill", "#000").attr("stroke", "#fff").attr("stroke-width", 1);
marks.append("path").attr("d", xPath(9.2, 2.8))
    .attr("transform", `translate(${x(haloRed[0])},${y(haloRed[1])})`)
    .attr("fill", "#ff0000").attr("stroke", "#fff").attr("stroke-width", 1);
const star = marks.append("g")
    .attr("transform", `translate(${x(haloBlue[0])},${y(haloBlue[1])})`);
star.selectAll("rect").data([90, 35, 145]).join("rect")
    .attr("x", -12).attr("y", -2.6).attr("width", 24).attr("height", 5.2)
    .attr("transform", d => `rotate(${d})`)
    .attr("fill", "#0000ff");

// frame
svg.append("rect").attr("width", width).attr("height", height)
    .attr("fill", "none").attr("stroke", "#000").attr("stroke-width", 2);

// axes (ticks inward)
svg.append("g").attr("transform", `translate(0,${height})`)
    .call(d3.axisBottom(x).tickValues(xTicks).tickFormat(d3.format(".1f"))
        .tickSizeInner(-6).tickSizeOuter(0).tickPadding(8));
svg.append("g")
    .call(d3.axisLeft(y).tickValues(yTicks).tickFormat(d3.format(".1f"))
        .tickSizeInner(-6).tickSizeOuter(0).tickPadding(6.5));
svg.append("g").attr("transform", `translate(0,${height})`)
    .call(d3.axisBottom(x).tickValues(d3.range(12.2, 13.34, 0.05)).tickFormat("")
        .tickSizeInner(-3.5).tickSizeOuter(0));
svg.append("g")
    .call(d3.axisLeft(y).tickValues(d3.range(10.5, 11.45, 0.05)).tickFormat("")
        .tickSizeInner(-3.5).tickSizeOuter(0));
svg.selectAll(".domain").remove();
svg.selectAll(".tick line").attr("stroke", "#000").attr("stroke-width", 1.3);
svg.selectAll(".tick text").style("font-size", "13.5px").style("font-family", "DejaVu Sans").attr("fill", "#000");

// axis labels
const xl = svg.append("text")
    .attr("x", width / 2).attr("y", 286)
    .attr("text-anchor", "middle").style("font-size", "13.5px");
xl.append("tspan").text("log");
xl.append("tspan").text("10").style("font-size", "9.5px").attr("dy", 3);
xl.append("tspan").text("(").attr("dy", -3);
xl.append("tspan").text("M").style("font-style", "italic");
xl.append("tspan").text("h").style("font-size", "9.5px").attr("dy", 3);
xl.append("tspan").text("/M").attr("dy", -3);
xl.append("tspan").text("⊙").style("font-size", "9.5px").attr("dy", 3);
xl.append("tspan").text(")").attr("dy", -3);

const yl = svg.append("text")
    .attr("transform", `translate(${13 - margin.left},${130}) rotate(-90)`)
    .attr("text-anchor", "middle").style("font-size", "13.5px");
yl.append("tspan").text("log");
yl.append("tspan").text("10").style("font-size", "9.5px").attr("dy", 3);
yl.append("tspan").text("(").attr("dy", -3);
yl.append("tspan").text("m").style("font-style", "italic");
yl.append("tspan").text("∗").style("font-size", "9.5px").attr("dy", 3);
yl.append("tspan").text("/M").attr("dy", -3);
yl.append("tspan").text("⊙").style("font-size", "9.5px").attr("dy", 3);
yl.append("tspan").text(")").attr("dy", -3);

// legend
const lg = svg.append("g").attr("transform", `translate(${73.3 - margin.left},0)`);
lg.append("path").attr("d", xPath(7, 2.3))
    .attr("transform", `translate(0,${22.7 - margin.top})`).attr("fill", "#000");
lg.append("circle").attr("cx", 0).attr("cy", 46 - margin.top).attr("r", 6.3).attr("fill", "#000");
lg.selectAll(".lt").data(legendLabels).join("text")
    .attr("x", 12.7)
    .attr("y", (d, i) => (i === 0 ? 22.7 : 46) - margin.top)
    .attr("dy", "0.36em")
    .style("font-size", "11.3px")
    .text(d => d);
</script>
</body>
</html>
